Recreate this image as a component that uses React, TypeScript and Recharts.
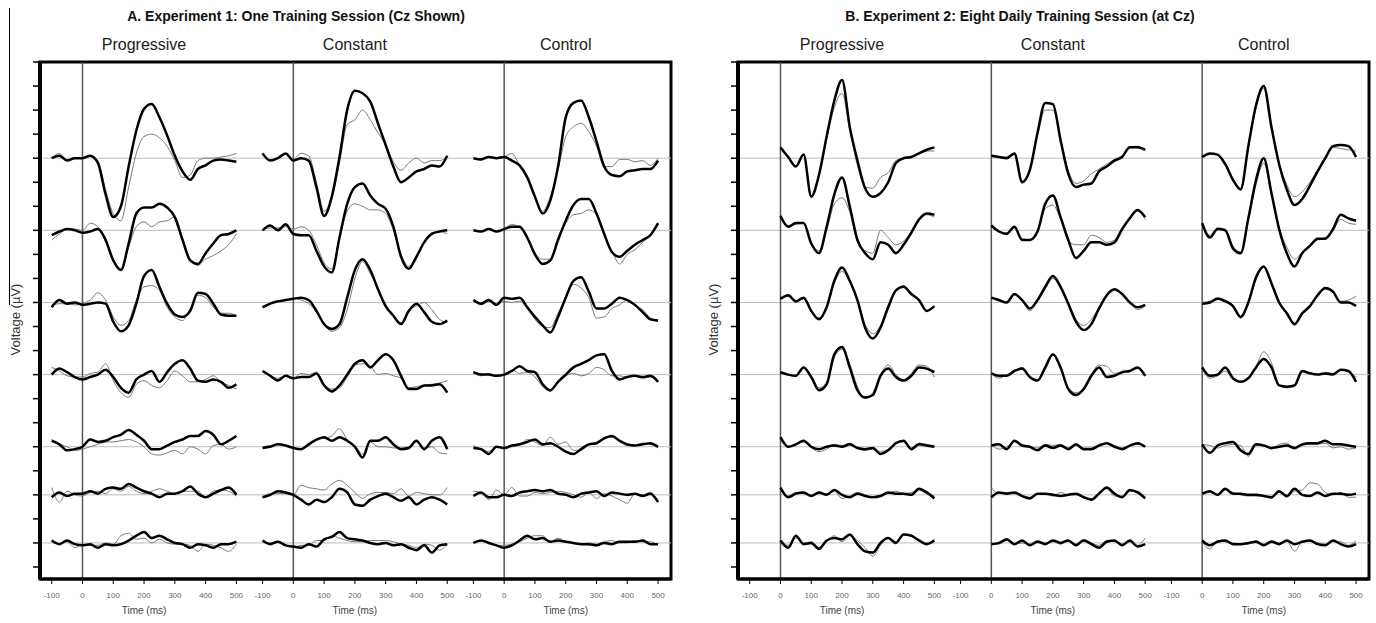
import React from 'react';
import { LineChart, Line, XAxis, YAxis, ReferenceLine, ReferenceArea } from 'recharts';

// time samples (ms)
const TIMES_A = [-100, -75, -50, -25, 0, 25, 50, 75, 100, 125, 150, 175, 200, 225, 250, 275, 300, 325, 350, 375, 400, 425, 450, 475, 500];
const TIMES_B = [0, 25, 50, 75, 100, 125, 150, 175, 200, 225, 250, 275, 300, 325, 350, 375, 400, 425, 450, 475, 500];
const TIME_TICKS = [-100, 0, 100, 200, 300, 400, 500];
const CONDITIONS = ['Progressive', 'Constant', 'Control'];
// vertical offset of each stacked waveform (in y-tick units)
const ROW_BASELINES = [17, 14, 11, 8, 5, 3, 1];
const VOLT_TICKS = [0, 1, 2, 3, 4, 5, 6, 7, 8, 9, 10, 11, 12, 13, 14, 15, 16, 17, 18, 19, 20, 21];

// Experiment 1 — thick = trained, thin = comparison
const A_PROG_THICK = [
  [0, 0.1, -0.1, 0, 0, 0.1, -0.2, -1.5, -2.45, -2.0, -0.35, 1.15, 2.05, 2.25, 1.7, 0.95, 0.1, -0.55, -0.9, -0.45, -0.3, -0.1, -0.05, -0.1, -0.15],
  [-0.2, -0.05, 0.05, 0, -0.1, -0.05, 0.05, -0.4, -1.25, -1.65, -0.55, 0.7, 0.95, 0.95, 1.1, 0.95, 0.55, -0.4, -1.25, -1.4, -0.95, -0.55, -0.2, -0.15, 0],
  [-0.2, 0.1, -0.05, 0, -0.1, -0.05, 0, -0.05, -0.8, -1.2, -0.95, -0.05, 1.1, 1.35, 0.65, -0.05, -0.5, -0.6, -0.35, 0.4, 0.35, -0.05, -0.5, -0.55, -0.55],
  [0, 0.25, 0.1, -0.1, -0.2, -0.1, 0, 0.2, -0.1, -0.55, -0.75, -0.2, 0, 0.15, -0.3, 0.1, 0.45, 0.6, 0.25, -0.25, -0.3, -0.2, -0.3, -0.55, -0.4],
  [0.25, 0.1, -0.15, -0.1, 0, 0.3, 0.2, 0.25, 0.4, 0.5, 0.7, 0.5, 0.25, -0.1, -0.1, 0.05, 0.2, 0.3, 0.45, 0.45, 0.65, 0.5, 0.1, 0.25, 0.45],
  [-0.1, 0.1, -0.05, 0.05, 0.05, 0.15, 0.05, 0.25, 0.3, 0.25, 0.45, 0.3, 0.15, 0.05, -0.1, 0.05, 0.05, 0.15, 0.35, 0.05, -0.1, 0.05, 0.2, 0.3, 0],
  [0.1, -0.05, 0.1, -0.05, -0.1, -0.05, -0.2, -0.05, -0.1, -0.05, 0.1, 0.3, 0.45, 0.2, 0.3, 0.15, 0, -0.05, -0.2, -0.05, -0.1, -0.2, -0.05, -0.05, 0.05],
];
const A_PROG_THIN = [
  [0, 0.2, -0.1, 0, 0, 0.1, -0.1, -1.3, -2.3, -2.6, -1.2, 0.2, 0.9, 1.0, 0.85, 0.5, -0.1, -0.8, -0.7, -0.1, 0, 0, 0.05, 0.1, 0.2],
  [-0.4, -0.15, 0.05, 0.05, 0, 0.3, 0.15, -0.35, -1.2, -1.6, -0.7, 0.15, 0.35, 0.15, 0.35, 0.4, 0.55, -0.3, -1.2, -1.45, -1.2, -1.05, -0.85, -0.6, -0.15],
  [-0.1, -0.05, -0.05, -0.1, -0.05, 0.1, 0.4, 0.1, -0.6, -0.95, -0.75, 0.1, 0.65, 0.7, 0.5, -0.2, -0.6, -0.75, -0.25, 0.3, 0.2, -0.2, -0.45, -0.45, -0.55],
  [0.3, 0.15, -0.05, -0.1, -0.1, 0.05, 0.1, 0.45, -0.25, -0.75, -0.95, -0.4, -0.25, -0.45, -0.55, -0.25, 0.15, -0.05, -0.3, -0.3, -0.2, -0.05, -0.3, -0.45, -0.6],
  [0.3, 0.1, 0, -0.15, -0.1, 0, 0.1, 0.2, 0.2, 0.25, 0.3, 0.2, 0, -0.3, -0.35, -0.25, -0.15, -0.3, 0, -0.1, -0.3, 0.05, 0.1, -0.1, 0],
  [0.3, -0.3, 0.15, 0, -0.05, 0.1, 0.15, 0.05, 0.25, 0.15, 0.35, 0.15, 0.05, 0.15, 0.25, 0.15, 0.05, 0.15, 0.15, 0.15, -0.1, 0.15, 0.2, 0.15, -0.05],
  [0.1, -0.05, 0.05, -0.2, -0.05, -0.1, -0.1, 0, -0.05, 0.3, 0.4, 0.15, 0.2, 0, 0.15, 0, -0.05, -0.05, -0.1, -0.35, -0.05, -0.1, -0.2, -0.35, -0.05],
];
const A_CONST_THICK = [
  [0.2, -0.1, 0, 0.2, -0.1, 0, -0.1, -1.2, -2.4, -1.6, 0.05, 2.0, 2.8, 2.7, 2.35, 1.45, 0.55, -0.35, -1.0, -0.8, -0.55, -0.45, -0.3, -0.35, 0.1],
  [0, 0.2, 0, 0.25, -0.15, -0.2, -0.2, -0.85, -1.5, -1.75, -0.3, 1.1, 1.8, 1.95, 1.45, 1.1, 0.9, 0.15, -1.1, -1.6, -1.1, -0.5, -0.15, -0.05, 0],
  [-0.2, -0.05, 0.05, 0.1, 0.15, 0.2, 0.1, -0.35, -0.9, -1.1, -0.9, 0.2, 1.35, 1.8, 1.35, 0.55, -0.15, -0.55, -0.9, -0.35, -0.05, -0.4, -0.8, -0.9, -0.75],
  [0.15, -0.05, -0.25, -0.05, -0.15, -0.1, -0.1, 0.05, -0.45, -0.7, -0.45, 0, 0.45, 0.6, 0.3, 0.6, 0.85, 0.6, -0.05, -0.6, -0.6, -0.45, -0.45, -0.4, -0.75],
  [-0.05, 0, 0.1, 0.05, -0.05, -0.1, 0.1, 0.3, 0.4, 0.25, 0.4, 0.25, 0, -0.45, 0.25, 0.25, 0.4, 0.1, -0.1, -0.05, 0.25, -0.1, 0.25, 0.4, -0.1],
  [-0.1, 0, 0.15, 0.1, 0, -0.2, -0.4, -0.2, -0.3, -0.1, 0.25, 0.1, -0.4, -0.45, -0.2, -0.05, 0.05, -0.1, -0.25, -0.1, -0.4, -0.2, -0.1, -0.2, -0.4],
  [0.1, -0.05, 0.05, -0.1, -0.15, -0.2, -0.05, -0.15, 0.15, 0.25, 0.45, 0.2, 0.15, 0.1, 0, -0.05, 0, -0.1, -0.05, -0.2, -0.3, -0.1, -0.4, -0.1, -0.05],
];
const A_CONST_THIN = [
  [0.2, -0.1, 0, 0.2, -0.05, 0.2, 0.1, -1.0, -2.2, -1.7, -0.2, 1.4, 1.6, 2.0, 1.6, 1.05, 0.55, -0.15, -0.5, -0.2, 0, -0.2, -0.1, -0.1, 0.05],
  [0, 0.1, 0.1, 0.15, 0.05, 0.15, 0, -0.6, -1.35, -1.6, -0.3, 0.8, 1.1, 1.0, 0.85, 0.85, 0.7, 0, -1.0, -1.5, -1.05, -0.5, -0.1, -0.05, -0.15],
  [-0.15, -0.05, 0.05, 0.1, 0.2, 0.1, -0.05, -0.4, -0.9, -1.2, -1.05, -0.3, 1.0, 1.7, 1.2, 0.6, -0.2, -0.55, -0.85, -0.3, -0.15, 0, -0.3, -0.7, -0.85],
  [0.15, -0.05, -0.15, -0.05, -0.15, 0.05, 0, 0.1, -0.4, -0.6, -0.55, -0.1, 0.4, 0.45, 0.35, 0, 0.05, -0.05, -0.15, -0.55, -0.5, -0.45, -0.4, -0.35, -0.25],
  [0, 0.05, 0.1, 0.05, -0.05, -0.1, 0.05, 0.3, 0.35, 0.45, 0.75, 0.3, 0.05, -0.3, 0.2, 0, 0, -0.05, -0.05, 0, 0.2, -0.05, 0, -0.25, -0.3],
  [-0.1, 0.05, 0.05, 0.05, 0, 0.4, 0.3, 0.25, 0.2, 0.45, 0.6, 0.4, 0.1, -0.15, 0.05, 0.1, 0.1, 0.05, 0.25, -0.05, 0.1, 0.05, 0, 0, 0.3],
  [0.05, 0, 0.05, -0.1, -0.2, -0.1, -0.1, 0.1, 0.1, 0.3, 0.2, 0.1, 0.05, 0.05, 0.1, 0.1, 0.1, 0.05, -0.05, -0.1, -0.2, -0.05, -0.1, -0.3, -0.05],
];
const A_CTRL_THICK = [
  [0, -0.05, 0.05, 0, 0.05, -0.1, -0.3, -0.8, -1.6, -2.3, -1.75, -0.35, 1.7, 2.3, 2.4, 1.7, 0.7, -0.35, -0.7, -0.75, -0.55, -0.5, -0.45, -0.45, -0.1],
  [0, -0.05, 0.05, -0.05, 0.05, 0.15, 0.15, -0.3, -1.0, -1.4, -1.25, -0.4, 0.4, 1.05, 1.3, 1.3, 0.7, -0.15, -0.9, -1.1, -0.85, -0.6, -0.4, -0.2, 0.3],
  [0.1, -0.05, 0.1, -0.1, 0.2, 0.15, 0.2, -0.2, -0.6, -0.95, -1.25, -0.6, 0.2, 0.9, 1.05, 0.45, -0.25, -0.25, -0.05, 0.2, 0.1, -0.1, -0.4, -0.7, -0.75],
  [0.1, 0, 0, -0.05, 0, 0.15, 0.35, 0.15, 0.1, -0.4, -0.65, -0.3, 0, 0.3, 0.45, 0.6, 0.8, 0.85, 0.15, -0.2, -0.1, -0.05, -0.1, -0.05, -0.3],
  [-0.05, -0.1, -0.3, 0, -0.05, 0.05, 0.1, 0.2, 0.3, 0.1, 0.15, 0, -0.2, -0.3, -0.1, 0.1, 0.15, 0.35, 0.45, 0.25, 0.1, 0.05, 0.1, 0.15, 0],
  [-0.05, 0.1, -0.1, -0.1, 0, -0.05, 0.1, 0.15, 0.2, 0.15, 0.2, 0.05, 0, -0.1, 0.05, 0.1, 0.15, -0.05, 0.1, 0.05, 0, 0.05, -0.05, 0.05, -0.3],
  [0, 0.1, 0, -0.1, -0.2, -0.1, 0.1, 0.3, 0.15, 0.2, 0.05, 0.1, 0.05, 0, -0.05, -0.05, -0.1, 0, -0.05, 0.05, 0.05, 0.05, 0.1, -0.05, -0.05],
];
const A_CTRL_THIN = [
  [0, -0.05, 0.05, 0, 0.05, 0.2, -0.3, -0.8, -1.6, -2.2, -1.6, -0.5, 0.9, 1.3, 1.45, 1.1, 0.5, -0.35, -0.35, -0.05, -0.05, -0.15, -0.1, -0.3, 0],
  [0, -0.05, 0.05, -0.05, 0.05, 0.25, 0.1, -0.3, -0.95, -1.2, -1.2, -0.3, 0.3, 0.65, 0.7, 0.85, 0.65, -0.2, -0.85, -1.4, -1.0, -0.8, -0.5, -0.2, 0.25],
  [0.05, -0.1, 0.05, -0.1, 0.05, 0, 0.05, -0.25, -0.7, -1.0, -1.05, -0.45, 0.2, 0.75, 0.6, 0.2, -0.65, -0.6, -0.25, -0.1, 0.1, -0.15, -0.3, -0.65, -0.8],
  [0.1, -0.05, 0.05, -0.05, 0, 0.2, 0.05, 0.1, -0.1, -0.5, -0.7, -0.3, -0.05, 0.05, -0.05, 0.05, 0.3, 0.2, -0.05, -0.05, -0.1, -0.05, -0.15, -0.1, -0.25],
  [0.05, -0.1, -0.2, 0, -0.1, 0, 0.05, 0.3, 0.2, 0.05, 0.4, 0.1, 0.2, -0.15, -0.15, 0.1, 0.1, 0.4, 0.4, 0.2, 0.05, 0.05, 0.15, 0.1, -0.05],
  [0.15, 0.1, -0.2, 0.2, 0, 0.3, -0.05, -0.05, 0.1, 0.05, 0.1, 0.15, 0.1, 0, -0.1, 0.1, -0.15, 0.05, -0.05, -0.2, -0.35, 0.05, 0, 0.1, -0.3],
  [0, 0.1, -0.05, -0.1, -0.1, -0.05, 0.05, 0.2, 0.3, 0.3, 0.05, 0.2, 0.05, 0, -0.05, 0, -0.05, 0.05, 0.1, 0, 0, 0.1, 0.05, 0.05, -0.1],
];

// Experiment 2 — curves start at stimulus onset
const B_PROG_THICK = [
  [0.45, 0.05, -0.35, 0.15, -1.6, -0.7, 0.9, 2.4, 3.25, 1.3, -0.1, -1.25, -1.6, -1.45, -1.0, -0.2, 0, 0.05, 0.2, 0.35, 0.45],
  [0.6, 0.15, 0.3, 0.3, -0.55, -0.95, 0.15, 1.5, 2.2, 1.0, -0.4, -0.95, -1.2, -0.5, -0.6, -0.95, -0.6, -0.1, 0.45, 0.7, 0.65],
  [0.15, 0.3, 0.05, 0.2, -0.35, -0.7, -0.2, 0.9, 1.45, 0.9, 0.1, -1.05, -1.5, -1.05, -0.2, 0.5, 0.65, 0.35, 0.1, -0.35, -0.15],
  [0.1, 0, -0.05, 0.3, -0.1, -0.65, -0.4, 0.85, 1.15, 0.3, -0.65, -0.95, -0.85, -0.05, 0.25, -0.1, -0.25, -0.05, 0.3, 0.25, 0.1],
  [0.4, 0, 0.1, 0.25, 0, -0.1, 0, 0.05, 0, 0.1, -0.05, -0.1, -0.05, -0.3, -0.15, 0.15, 0.25, -0.1, 0.1, 0.05, 0],
  [0.3, -0.1, 0.05, 0.1, -0.05, 0.1, 0, 0.2, 0, -0.1, 0.05, -0.05, -0.1, -0.05, 0.1, 0.05, 0.05, 0, 0.25, 0.1, -0.15],
  [0.1, -0.2, 0.3, -0.05, 0, -0.25, 0.1, 0.2, 0.15, 0.35, -0.05, -0.35, -0.4, 0, 0.2, 0, 0.35, 0.3, 0.1, -0.05, 0.1],
];
const B_PROG_THIN = [
  [0.45, 0.05, -0.35, 0.15, -1.55, -0.7, 0.8, 2.1, 2.7, 1.2, -0.3, -1.2, -1.25, -0.8, -0.6, -0.1, 0, 0.05, 0.2, 0.3, 0.3],
  [0.6, 0.2, 0.25, 0.3, -0.5, -0.85, 0, 1.1, 1.35, 0.75, -0.5, -0.85, -0.95, 0, -0.3, -0.6, -0.45, -0.05, 0.4, 0.65, 0.55],
  [0.15, 0.25, 0, 0.15, -0.35, -0.65, -0.2, 0.8, 1.3, 0.85, 0.1, -0.9, -1.3, -0.95, -0.1, 0.45, 0.7, 0.4, 0.1, -0.35, -0.15],
  [0.1, 0, -0.05, 0.3, -0.05, -0.55, -0.35, 0.7, 1.05, 0.45, -0.5, -1.0, -0.75, 0, 0.4, 0, -0.2, 0.05, 0.4, 0.35, -0.1],
  [0.3, 0, 0.1, 0.2, -0.05, -0.2, -0.1, 0.1, 0.05, 0.15, -0.05, -0.15, -0.1, -0.2, -0.1, 0.15, 0.2, -0.05, 0.15, 0.1, 0.05],
  [0.2, -0.05, 0.1, 0.05, 0, 0.05, 0.05, 0.15, -0.15, -0.05, 0.1, 0, -0.1, 0, 0.05, 0.15, 0.05, 0.1, 0.2, 0.05, -0.05],
  [0.15, -0.1, 0.2, 0, 0.05, -0.2, 0.05, 0.3, 0.05, 0.3, 0.1, -0.2, -0.55, -0.1, 0.2, 0.05, 0.35, 0.3, 0.15, 0, 0.15],
];
const B_CONST_THICK = [
  [0.1, 0.05, 0, 0.2, -1.0, -0.5, 1.05, 2.3, 2.25, 0.75, -0.65, -1.2, -1.1, -1.05, -0.55, -0.35, -0.1, 0.05, 0.45, 0.45, 0.35],
  [0.2, -0.05, -0.15, 0.15, -0.4, -0.4, -0.05, 1.1, 1.45, 0.55, -0.4, -1.15, -0.85, -0.5, -0.5, -0.6, -0.5, 0.05, 0.5, 0.85, 0.55],
  [0.2, 0.1, 0, 0.35, 0.1, -0.25, 0.1, 0.65, 1.1, 0.65, -0.05, -0.8, -1.15, -0.9, -0.25, 0.3, 0.55, 0.35, 0, -0.2, -0.1],
  [0.05, -0.05, -0.05, 0.15, 0.25, -0.1, -0.25, 0.3, 0.85, 0.3, -0.6, -0.85, -0.6, -0.05, 0.3, -0.1, -0.05, 0.1, 0.15, 0.3, -0.05],
  [0.05, 0.1, -0.1, 0.25, 0.05, 0, -0.15, 0.05, -0.05, 0.05, -0.1, 0.1, -0.1, -0.1, 0.05, 0.15, 0, -0.1, 0.05, 0.15, 0],
  [-0.1, 0.1, 0.05, 0.1, -0.05, -0.15, 0.05, 0.05, 0, -0.05, 0, 0.05, -0.1, -0.2, 0.05, 0.3, 0.05, -0.1, 0.2, 0.1, -0.15],
  [-0.05, 0, 0.15, -0.05, 0.1, -0.1, 0.05, -0.05, 0.1, 0, 0.1, -0.1, 0.1, -0.05, -0.2, 0.05, 0.1, -0.1, 0.1, -0.15, -0.05],
];
const B_CONST_THIN = [
  [0.1, 0.05, 0.05, 0.15, -0.95, -0.5, 0.95, 2.0, 2.0, 0.8, -0.5, -1.05, -0.95, -0.65, -0.45, -0.25, -0.05, 0.1, 0.45, 0.5, 0.3],
  [0.2, -0.05, -0.1, 0.1, -0.35, -0.4, -0.05, 0.9, 1.05, 0.45, -0.45, -0.6, -0.6, -0.2, -0.3, -0.5, -0.4, 0.1, 0.5, 0.8, 0.45],
  [0.2, 0.05, 0, 0.3, 0.1, -0.35, 0.05, 0.55, 1.0, 0.6, 0, -0.7, -0.95, -0.7, -0.2, 0.25, 0.5, 0.35, 0, -0.3, -0.15],
  [0.05, -0.15, 0, 0.15, 0.3, -0.1, -0.2, 0.2, 0.8, 0.3, -0.55, -0.75, -0.6, 0, 0.4, 0.35, 0.05, 0.1, 0.15, 0.25, -0.05],
  [0.1, -0.1, 0, 0.2, 0.1, 0, -0.05, 0.1, 0.05, 0.1, -0.05, 0.05, -0.05, -0.05, 0.1, 0.15, 0.05, -0.05, 0.05, 0.1, 0.05],
  [0.3, 0.05, 0.1, 0.05, -0.05, -0.1, 0.05, 0.05, -0.05, 0.1, 0, 0, -0.1, -0.15, 0.1, 0.25, -0.05, -0.05, 0.15, 0.15, -0.1],
  [-0.05, -0.05, 0.1, -0.05, 0, -0.05, 0.1, 0, 0.05, -0.05, 0.1, -0.05, 0.15, 0, -0.1, 0.1, 0.05, -0.05, 0.05, -0.1, 0.2],
];
const B_CTRL_THICK = [
  [0.05, 0.2, 0.15, -0.25, -0.9, -1.3, 0.5, 2.2, 3.0, 1.3, -0.25, -1.3, -1.95, -1.7, -1.15, -0.55, 0, 0.5, 0.55, 0.5, 0.05],
  [0.3, -0.3, 0.05, 0, -0.75, -0.95, 0.5, 2.1, 3.0, 1.55, 0.05, -0.95, -1.5, -0.95, -0.65, -0.35, -0.35, 0.05, 0.65, 0.5, 0.4],
  [-0.05, 0, 0.15, 0.05, -0.15, -0.6, 0, 1.05, 1.5, 0.8, 0, -0.45, -0.9, -0.45, -0.15, 0.3, 0.6, 0.45, 0, 0, -0.15],
  [0.3, -0.05, 0, 0.3, -0.15, -0.3, -0.15, 0.3, 0.65, 0.3, -0.45, -0.5, -0.45, 0.15, 0.05, 0, 0.05, 0, 0.2, 0.15, -0.3],
  [0.1, -0.25, 0.05, 0.15, 0.2, -0.15, -0.3, 0.1, 0.05, -0.05, 0, 0.05, -0.05, 0.1, 0.15, 0.15, 0.25, 0.1, 0.1, 0.05, 0],
  [0.05, 0.15, 0, 0.25, 0.05, 0.05, 0, 0, -0.05, -0.1, 0.15, -0.05, 0.25, 0, -0.05, 0.1, -0.05, 0.05, 0.05, 0, 0.05],
  [0.1, -0.1, 0.05, 0.1, -0.05, -0.05, 0, 0.05, -0.1, 0.05, -0.05, 0.1, -0.05, 0.05, 0.1, -0.05, -0.1, 0.1, -0.05, -0.15, -0.05],
];
const B_CTRL_THIN = [
  [0.05, 0.15, 0.15, -0.2, -0.85, -1.25, 0.45, 2.1, 2.9, 1.3, -0.2, -1.1, -1.6, -1.4, -1.0, -0.5, 0.05, 0.45, 0.4, 0.35, 0.3],
  [0.25, -0.2, 0.1, 0.05, -0.65, -0.9, 0.4, 1.9, 2.8, 1.5, 0.1, -0.7, -1.2, -0.9, -0.6, -0.4, -0.3, 0, 0.45, 0.3, 0.25],
  [0, 0.05, 0.2, 0.1, -0.1, -0.65, -0.05, 0.95, 1.45, 0.8, 0, -0.4, -0.95, -0.5, -0.2, 0.3, 0.55, 0.4, 0.05, 0.1, 0.25],
  [0.25, -0.15, -0.05, 0.15, -0.2, -0.3, -0.15, 0.35, 0.95, 0.5, -0.45, -0.55, -0.5, 0.1, 0.1, 0, 0.1, 0.05, 0.2, 0.1, -0.1],
  [0.1, 0.05, -0.05, 0.05, 0.1, 0.05, -0.4, 0.05, 0.05, -0.1, 0.1, 0.15, -0.1, 0.05, 0.1, 0.1, 0.15, -0.05, 0, -0.1, -0.05],
  [0, 0.1, 0, 0.2, 0.1, 0, -0.05, -0.05, -0.05, -0.15, 0.1, -0.1, 0.15, 0.2, 0.5, 0.45, 0.1, 0, 0.1, -0.1, -0.1],
  [0.05, -0.25, 0.1, 0.05, 0, -0.05, -0.05, 0.1, -0.05, 0.1, 0, 0.1, -0.35, 0.05, 0.1, 0, -0.05, 0.05, 0.05, -0.1, 0.1],
];

const FONT = '"Liberation Sans", Arial, Helvetica, sans-serif';
const COL_OFFSET = 685; // ms between the three sub-plots on the shared x scale
const X_MIN = -138;
const X_MAX = 1912;
const CHART_W = 700;
const CHART_H = 623;
const Y_AXIS_W = 20;
const X_AXIS_H = 30;
const MARGIN = { top: 62, right: 29, bottom: 44 - X_AXIS_H, left: 40 - Y_AXIS_W };
const PLOT_LEFT = 40;
const PLOT_RIGHT = 29;

const xTicks = CONDITIONS.flatMap((_, c) => TIME_TICKS.map((t) => c * COL_OFFSET + t));
const fmtTime = (v: number) => String(v - Math.round((v - 200) / COL_OFFSET) * COL_OFFSET);
const pxPerMs = (CHART_W - PLOT_LEFT - PLOT_RIGHT) / (X_MAX - X_MIN);
const colCenterPx = (c: number) => PLOT_LEFT + (c * COL_OFFSET + 200 - X_MIN) * pxPerMs;

interface PanelProps {
  left: number;
  times: number[];
  thick: number[][][];
  thin: number[][][];
  title: string;
  titleCenter: number;
}

function Panel({ left, times, thick, thin, title, titleCenter }: PanelProps) {
  const build = (vals: number[], c: number, base: number) =>
    times.map((t, i) => ({ x: c * COL_OFFSET + t, y: base + vals[i] }));

  const thinLines: { key: string; data: { x: number; y: number }[] }[] = [];
  const thickLines: { key: string; data: { x: number; y: number }[] }[] = [];
  CONDITIONS.forEach((_, c) => {
    ROW_BASELINES.forEach((base, r) => {
      thinLines.push({ key: `thin-${c}-${r}`, data: build(thin[c][r], c, base) });
      thickLines.push({ key: `thick-${c}-${r}`, data: build(thick[c][r], c, base) });
    });
  });

  return (
    <div style={{ position: 'absolute', left, top: 0, width: CHART_W, height: CHART_H }}>
      <div style={{ position: 'absolute', left: titleCenter - left - 300, top: 8, width: 600, textAlign: 'center', fontFamily: FONT, fontWeight: 'bold', fontSize: 14, color: '#111' }}>
        {title}
      </div>
      {CONDITIONS.map((name, c) => (
        <div key={name} style={{ position: 'absolute', left: colCenterPx(c) - 100, top: 36, width: 200, textAlign: 'center', fontFamily: FONT, fontSize: 16, color: '#222' }}>
          {name}
        </div>
      ))}
      {CONDITIONS.map((name, c) => (
        <div key={`t-${name}`} style={{ position: 'absolute', left: colCenterPx(c) - 50, top: 605, width: 100, textAlign: 'center', fontFamily: FONT, fontSize: 10, color: '#444' }}>
          Time (ms)
        </div>
      ))}
      <div style={{ position: 'absolute', left: 15 - 60, top: 320 - 8, width: 120, textAlign: 'center', transform: 'rotate(-90deg)', fontFamily: FONT, fontSize: 13, color: '#333' }}>
        Voltage (µV)
      </div>
      <LineChart width={CHART_W} height={CHART_H} margin={MARGIN}>
        <XAxis
          type="number"
          dataKey="x"
          domain={[X_MIN, X_MAX]}
          ticks={xTicks}
          interval={0}
          allowDataOverflow
          height={X_AXIS_H}
          tickFormatter={fmtTime}
          tickSize={5}
          tickMargin={8}
          tick={{ fontSize: 8, fill: '#666', fontFamily: FONT }}
          axisLine={{ stroke: '#000', strokeWidth: 3 }}
          tickLine={{ stroke: '#000', strokeWidth: 1 }}
        />
        <YAxis
          type="number"
          domain={[-0.5, 21]}
          ticks={VOLT_TICKS}
          interval={0}
          allowDataOverflow
          width={Y_AXIS_W}
          tickFormatter={() => ''}
          tickSize={7}
          axisLine={{ stroke: '#000', strokeWidth: 4 }}
          tickLine={{ stroke: '#000', strokeWidth: 1.5 }}
        />
        {ROW_BASELINES.map((b) => (
          <ReferenceLine key={`b-${b}`} y={b} stroke="#bdbdbd" strokeWidth={1} />
        ))}
        {CONDITIONS.map((_, c) => (
          <ReferenceLine key={`z-${c}`} x={c * COL_OFFSET} stroke="#555" strokeWidth={1.5} />
        ))}
        <ReferenceArea x1={X_MIN} x2={X_MAX} y1={-0.5} y2={21} fill="none" stroke="#000" strokeWidth={3} />
        {thinLines.map((l) => (
          <Line key={l.key} data={l.data} dataKey="y" type="monotone" stroke="#7a7a7a" strokeWidth={1} dot={false} activeDot={false} isAnimationActive={false} />
        ))}
        {thickLines.map((l) => (
          <Line key={l.key} data={l.data} dataKey="y" type="monotone" stroke="#000" strokeWidth={2.5} dot={false} activeDot={false} isAnimationActive={false} />
        ))}
      </LineChart>
    </div>
  );
}

export default function App() {
  return (
    <div style={{ position: 'absolute', left: 0, top: 0, width: 1376, height: 623, background: '#fff', overflow: 'hidden' }}>
      <div style={{ position: 'absolute', left: 9, top: 8, width: 1, height: 297, background: '#000' }} />
      <Panel
        left={0}
        times={TIMES_A}
        thick={[A_PROG_THICK, A_CONST_THICK, A_CTRL_THICK]}
        thin={[A_PROG_THIN, A_CONST_THIN, A_CTRL_THIN]}
        title="A. Experiment 1: One Training Session (Cz Shown)"
        titleCenter={296}
      />
      <Panel
        left={698}
        times={TIMES_B}
        thick={[B_PROG_THICK, B_CONST_THICK, B_CTRL_THICK]}
        thin={[B_PROG_THIN, B_CONST_THIN, B_CTRL_THIN]}
        title="B. Experiment 2: Eight Daily Training Session (at Cz)"
        titleCenter={1020}
      />
    </div>
  );
}
